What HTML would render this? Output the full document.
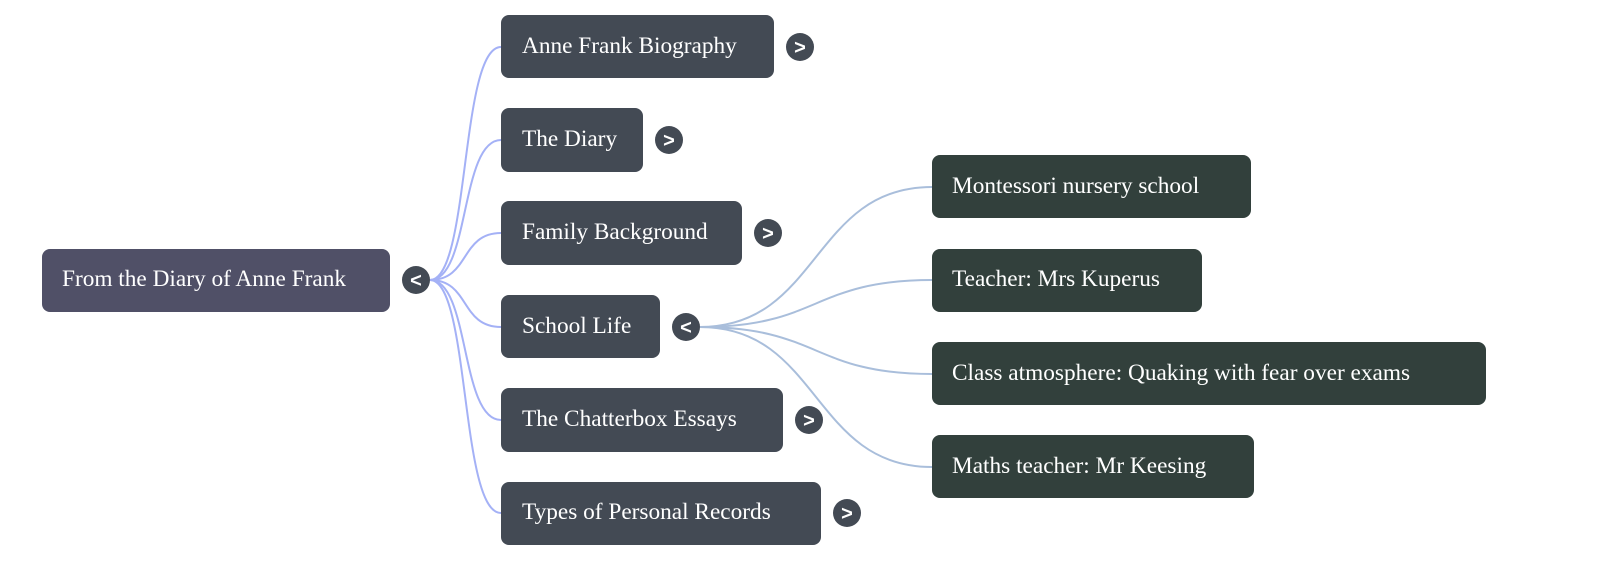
<!DOCTYPE html>
<html><head><meta charset="utf-8"><style>
html,body{margin:0;padding:0;background:#fff;width:1600px;height:572px;overflow:hidden}
text{font-family:"Liberation Serif",serif;font-size:23.3px;fill:#fff}
.t{font-family:"Liberation Sans",sans-serif;font-size:20px;font-weight:bold}
</style></head><body>
<svg width="1600" height="572" xmlns="http://www.w3.org/2000/svg">
<g fill="none" stroke="#a4b1f6" stroke-width="2">
<path d="M430 280 C470 280 460 47 501 47"/>
<path d="M430 280 C470 280 460 140 501 140"/>
<path d="M430 280 C470 280 460 233 501 233"/>
<path d="M430 280 C470 280 460 327 501 327"/>
<path d="M430 280 C470 280 460 420 501 420"/>
<path d="M430 280 C470 280 460 513 501 513"/>
</g>
<g fill="none" stroke="#a9bedb" stroke-width="2">
<path d="M700 327 C820 327 812 187 932 187"/>
<path d="M700 327 C820 327 812 280 932 280"/>
<path d="M700 327 C820 327 812 374 932 374"/>
<path d="M700 327 C820 327 812 467 932 467"/>
</g>
<rect x="42" y="249" width="348" height="63" rx="8" fill="#505067"/>
<text x="62" y="286">From the Diary of Anne Frank</text>
<g fill="#434a54">
<rect x="501" y="15" width="273" height="63" rx="8"/>
<rect x="501" y="108" width="142" height="64" rx="8"/>
<rect x="501" y="201" width="241" height="64" rx="8"/>
<rect x="501" y="295" width="159" height="63" rx="8"/>
<rect x="501" y="388" width="282" height="64" rx="8"/>
<rect x="501" y="482" width="320" height="63" rx="8"/>
<circle cx="416" cy="280" r="14"/>
<circle cx="800" cy="47" r="14"/>
<circle cx="669" cy="140" r="14"/>
<circle cx="768" cy="233" r="14"/>
<circle cx="686" cy="327" r="14"/>
<circle cx="809" cy="420" r="14"/>
<circle cx="847" cy="513" r="14"/>
</g>
<g fill="#32403c">
<rect x="932" y="155" width="319" height="63" rx="8"/>
<rect x="932" y="249" width="270" height="63" rx="8"/>
<rect x="932" y="342" width="554" height="63" rx="8"/>
<rect x="932" y="435" width="322" height="63" rx="8"/>
</g>
<text x="522" y="53">Anne Frank Biography</text>
<text x="522" y="146">The Diary</text>
<text x="522" y="239">Family Background</text>
<text x="522" y="333">School Life</text>
<text x="522" y="426">The Chatterbox Essays</text>
<text x="522" y="519">Types of Personal Records</text>
<text x="952" y="193">Montessori nursery school</text>
<text x="952" y="286">Teacher: Mrs Kuperus</text>
<text x="952" y="380">Class atmosphere: Quaking with fear over exams</text>
<text x="952" y="473">Maths teacher: Mr Keesing</text>
<g text-anchor="middle">
<text class="t" x="416" y="287">&lt;</text>
<text class="t" x="800" y="54">&gt;</text>
<text class="t" x="669" y="147">&gt;</text>
<text class="t" x="768" y="240">&gt;</text>
<text class="t" x="686" y="334">&lt;</text>
<text class="t" x="809" y="427">&gt;</text>
<text class="t" x="847" y="520">&gt;</text>
</g>
</svg>
</body></html>
